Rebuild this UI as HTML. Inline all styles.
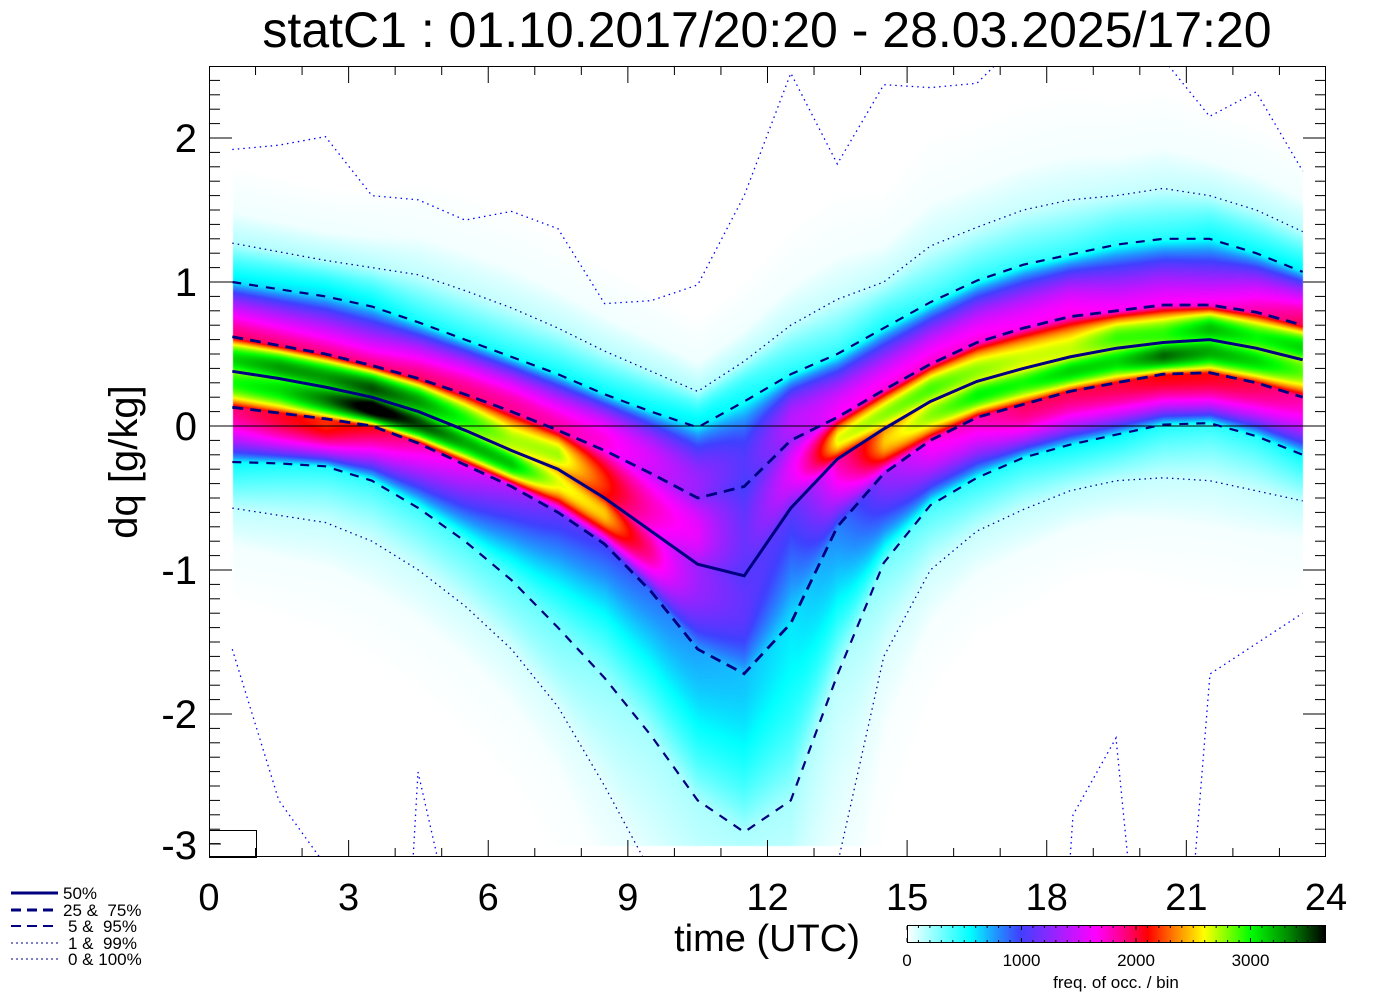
<!DOCTYPE html>
<html><head><meta charset="utf-8"><style>
html,body{margin:0;padding:0;background:#fff;}
#wrap{position:relative;width:1388px;height:992px;overflow:hidden;font-family:"Liberation Sans",sans-serif;}
canvas{position:absolute;left:209px;top:66px;}
svg{position:absolute;left:0;top:0;}
</style></head><body><div id="wrap">
<canvas id="c" width="1117" height="791"></canvas>
<svg id="s" width="1388" height="992" xmlns="http://www.w3.org/2000/svg"></svg>
</div>
<script>
var X0=209,PX=46.54,Y0=426,PY=144;
function xp(h){return X0+PX*h;}
function yp(v){return Y0-PY*v;}
var P={
p1:[-0.57,-0.62,-0.67,-0.8,-1.0,-1.25,-1.55,-1.95,-2.5,-3.1,-3.6,-3.8,-3.5,-3.05,-1.6,-1.0,-0.73,-0.58,-0.45,-0.38,-0.36,-0.38,-0.45,-0.52],
p5:[-0.25,-0.26,-0.28,-0.38,-0.57,-0.8,-1.07,-1.4,-1.75,-2.15,-2.6,-2.82,-2.6,-1.73,-0.95,-0.55,-0.36,-0.22,-0.13,-0.06,0.01,0.02,-0.07,-0.2],
p25:[0.13,0.09,0.05,0,-0.12,-0.27,-0.42,-0.6,-0.82,-1.15,-1.55,-1.72,-1.37,-0.7,-0.33,-0.1,0.06,0.15,0.24,0.3,0.36,0.37,0.3,0.2],
p50:[0.38,0.33,0.27,0.2,0.1,-0.03,-0.17,-0.3,-0.5,-0.73,-0.96,-1.04,-0.57,-0.23,-0.02,0.17,0.31,0.4,0.48,0.54,0.58,0.6,0.54,0.46],
p75:[0.62,0.56,0.5,0.42,0.33,0.22,0.1,-0.03,-0.17,-0.33,-0.5,-0.42,-0.1,0.06,0.25,0.43,0.58,0.68,0.76,0.8,0.84,0.84,0.79,0.7],
p95:[1.0,0.95,0.9,0.83,0.72,0.6,0.48,0.36,0.22,0.1,-0.01,0.17,0.36,0.5,0.68,0.86,1.01,1.12,1.19,1.26,1.3,1.3,1.2,1.07],
p99:[1.27,1.21,1.15,1.1,1.05,0.94,0.82,0.68,0.52,0.38,0.24,0.45,0.7,0.88,1.0,1.25,1.38,1.5,1.57,1.6,1.65,1.6,1.5,1.35]
};
function interp(a,h){var t=h-0.5;var i=Math.floor(t);if(i<0)i=0;if(i>22)i=22;var f=t-i;return a[i]*(1-f)+a[i+1]*f;}
var stops=[[0,[255,255,255]],[0.15,[0,255,255]],[0.21,[32,150,255]],[0.27,[64,64,255]],[0.36,[160,32,255]],[0.45,[255,0,255]],[0.52,[255,0,128]],[0.575,[255,0,0]],[0.64,[255,128,0]],[0.71,[255,255,0]],[0.82,[0,255,0]],[0.91,[0,140,0]],[1,[0,0,0]]];
function cmap(f){if(f<=0)return stops[0][1];if(f>=1)return stops[stops.length-1][1];for(var i=1;i<stops.length;i++){if(f<=stops[i][0]){var a=stops[i-1],b=stops[i];var t=(f-a[0])/(b[0]-a[0]);return [a[1][0]+(b[1][0]-a[1][0])*t,a[1][1]+(b[1][1]-a[1][1])*t,a[1][2]+(b[1][2]-a[1][2])*t];}}}
var cv=document.getElementById('c'),ctx=cv.getContext('2d');var W=1117,H=791;
var img=ctx.createImageData(W,H);var D=1.35;
var pr=[0,0.002,0.01,0.05,0.25,0.5,0.75,0.95,0.99,0.998,1];
for(var px=0;px<W;px++){var h=px/PX;if(h<0.5||h>23.5)continue;
 var q7=[interp(P.p1,h),interp(P.p5,h),interp(P.p25,h),interp(P.p50,h),interp(P.p75,h),interp(P.p95,h),interp(P.p99,h)];
 var tl=q7[1]-q7[0],tu=q7[6]-q7[5];
 var q=[q7[0]-2*tl,q7[0]-0.8*tl].concat(q7).concat([q7[6]+0.8*tu,q7[6]+2*tu]);
 var n=q.length,hs=[],dl=[],m=[];
 for(var k=0;k<n-1;k++){hs.push(q[k+1]-q[k]);dl.push((pr[k+1]-pr[k])/hs[k]);}
 m[0]=0;m[n-1]=0;
 for(var k=1;k<n-1;k++){var a=dl[k-1],b=dl[k];if(a*b<=0){m[k]=0;}else{m[k]=3*(hs[k-1]+hs[k])/((2*hs[k]+hs[k-1])/a+(hs[k]+2*hs[k-1])/b);}}
 for(var py=0;py<H;py++){var Y=py+66;if(Y>845)continue;var v=(Y0-Y)/PY;var d=0;
  if(v>q[0]&&v<q[n-1]){var k=0;while(k<n-2&&v>q[k+1])k++;var hh=hs[k],t=(v-q[k])/hh;
   d=(6*t*t-6*t)*(pr[k]-pr[k+1])/hh+(3*t*t-4*t+1)*m[k]+(3*t*t-2*t)*m[k+1];if(d<0)d=0;}
  var c=cmap(d/D);var o=(py*W+px)*4;img.data[o]=c[0];img.data[o+1]=c[1];img.data[o+2]=c[2];img.data[o+3]=255;}}
ctx.putImageData(img,0,0);
var S='';
S+='<defs><clipPath id="cp"><rect x="209" y="66" width="1117" height="791"/></clipPath></defs>';
function line(arr,style){var p=arr.map(function(v,i){return xp(i+0.5).toFixed(1)+','+yp(v).toFixed(1);}).join(' ');return '<polyline clip-path="url(#cp)" points="'+p+'" fill="none" '+style+'/>';}
S+='<line x1="209" y1="426" x2="1326" y2="426" stroke="#000" stroke-width="1"/>';
var p100=[1.92,1.95,2.01,1.6,1.57,1.43,1.49,1.37,0.85,0.87,0.98,1.6,2.45,1.82,2.37,2.35,2.38,2.7,2.9,2.8,2.55,2.15,2.32,1.77];
var dot='stroke="#0000a0" stroke-width="1.3" stroke-dasharray="1.5,4"';
var dotb='stroke="#0000ff" stroke-width="1.3" stroke-dasharray="1.5,4"';
S+=line(p100,dotb);
S+='<polyline clip-path="url(#cp)" fill="none" '+dotb+' points="'+[[0.5,-1.55],[1.5,-2.6],[2.5,-3.05],[3.5,-3.6]].map(function(a){return xp(a[0])+','+yp(a[1]);}).join(' ')+'"/>';
S+='<polyline clip-path="url(#cp)" fill="none" '+dotb+' points="413,860 418,772 438,860"/>';
S+='<polyline clip-path="url(#cp)" fill="none" '+dotb+' points="1070,860 1073,815 1116,738 1128,860"/>';
S+='<polyline clip-path="url(#cp)" fill="none" '+dotb+' points="1195,860 1210,674 '+xp(23.5)+','+yp(-1.3)+'"/>';
S+=line(P.p1,dot);S+=line(P.p99,dot);
var d5='stroke="#000080" stroke-width="2.2" stroke-dasharray="9,8"';
S+=line(P.p5,d5);S+=line(P.p95,d5);
var d25='stroke="#000080" stroke-width="2.8" stroke-dasharray="11,7"';
S+=line(P.p25,d25);S+=line(P.p75,d25);
S+=line(P.p50,'stroke="#000080" stroke-width="3"');
S+='<rect x="209.5" y="66.5" width="1116" height="790" fill="none" stroke="#000" stroke-width="1"/>';
for(var i=-30;i<=24;i++){var y=yp(i/10);if(y<67||y>856)continue;var L=(i%10==0)?23:11;S+='<line x1="209" y1="'+y+'" x2="'+(209+L)+'" y2="'+y+'" stroke="#000"/><line x1="1326" y1="'+y+'" x2="'+(1326-L)+'" y2="'+y+'" stroke="#000"/>';}
for(var h=1;h<24;h++){var x=xp(h);var L=(h%3==0)?17:9;S+='<line x1="'+x+'" y1="66" x2="'+x+'" y2="'+(66+L)+'" stroke="#000"/><line x1="'+x+'" y1="857" x2="'+x+'" y2="'+(857-L)+'" stroke="#000"/>';}
S+='<rect x="209.5" y="830.5" width="47" height="27" fill="none" stroke="#000"/><line x1="210" y1="844" x2="221" y2="844" stroke="#000"/>';
var ty=[[2,'2'],[1,'1'],[0,'0'],[-1,'-1'],[-2,'-2'],[-3,'-3']];
ty.forEach(function(t){var y=yp(t[0]);if(t[0]==-3)y=845;S+='<text x="197" y="'+(y+14)+'" font-size="40" text-anchor="end">'+t[1]+'</text>';});
for(var h=0;h<=24;h+=3){S+='<text x="'+xp(h)+'" y="910" font-size="38" text-anchor="middle">'+h+'</text>';}
S+='<text x="767" y="47" font-size="50" text-anchor="middle">statC1 : 01.10.2017/20:20 - 28.03.2025/17:20</text>';
S+='<text x="767" y="951" font-size="38" text-anchor="middle">time (UTC)</text>';
S+='<text transform="translate(137,462) rotate(-90)" font-size="40" text-anchor="middle">dq [g/kg]</text>';
S+='<defs><linearGradient id="g" x1="0" x2="1" y1="0" y2="0">'+stops.map(function(s){return '<stop offset="'+s[0]+'" stop-color="rgb('+s[1].join(',')+')"/>';}).join('')+'</linearGradient></defs>';
S+='<rect x="907.5" y="925.5" width="418" height="17" fill="url(#g)" stroke="#000"/>';
for(var v=0;v<=3600;v+=100){var x=907+v*0.1145;var L=(v%1000==0)?4:2;S+='<line x1="'+x+'" y1="926" x2="'+x+'" y2="'+(926+L)+'" stroke="#000"/><line x1="'+x+'" y1="942" x2="'+x+'" y2="'+(942-L)+'" stroke="#000"/>';}
[0,1000,2000,3000].forEach(function(v){S+='<text x="'+(907+v*0.1145)+'" y="966" font-size="17" text-anchor="middle">'+v+'</text>';});
S+='<text x="1116" y="988" font-size="17" text-anchor="middle">freq. of occ. / bin</text>';
var lg=[[893,'50%',63,'stroke-width="3"'],[910,'25 &amp;  75%',63,'stroke-width="3" stroke-dasharray="10,6"'],[926,'5 &amp;  95%',68,'stroke-width="2" stroke-dasharray="10,6"'],[943,'1 &amp;  99%',68,'stroke-width="1" stroke-dasharray="2,3"'],[959,'0 &amp; 100%',68,'stroke-width="1" stroke-dasharray="2,3"']];
lg.forEach(function(l){S+='<line x1="11" y1="'+l[0]+'" x2="58" y2="'+l[0]+'" stroke="#000080" '+l[3]+'/><text x="'+l[2]+'" y="'+(l[0]+6)+'" font-size="17" xml:space="preserve">'+l[1]+'</text>';});
document.getElementById('s').innerHTML=S;
</script>
</body></html>
